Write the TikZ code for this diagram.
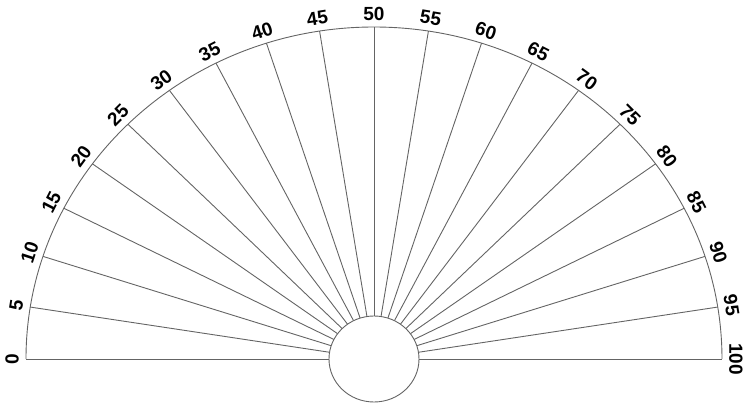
\documentclass[tikz,border=0pt]{standalone}
\usepackage{fontspec}
\setmainfont{Liberation Sans}
\begin{document}
\begin{tikzpicture}[x=1pt,y=1pt,
  ln/.style={draw={rgb,255:red,100;green,100;blue,100}, line width=0.9pt},
  lbl/.style={font=\bfseries\fontsize{19}{19}\selectfont, inner sep=0pt, text=black}]
\useasboundingbox (-374,-46) rectangle (374,359);
\coordinate (O) at (0,0);
\coordinate (arcR) at (348,0);
\foreach \v in {0,5,...,100}{
  \pgfmathsetmacro\a{180-1.8*\v}
  \coordinate (in\v) at ({45*cos(\a)},{43*sin(\a)});
  \coordinate (out\v) at ({348*cos(\a)},{332*sin(\a)});
  \draw[ln] (in\v) -- (out\v);
  \node[lbl, rotate=\a-90] (t\v) at ({362*cos(\a)},{345*sin(\a)}) {\v};
}
\draw[ln] (arcR) arc[x radius=348, y radius=332, start angle=0, end angle=180];
\draw[ln, fill=white] (O) ellipse[x radius=45, y radius=43];
\end{tikzpicture}
\end{document}
